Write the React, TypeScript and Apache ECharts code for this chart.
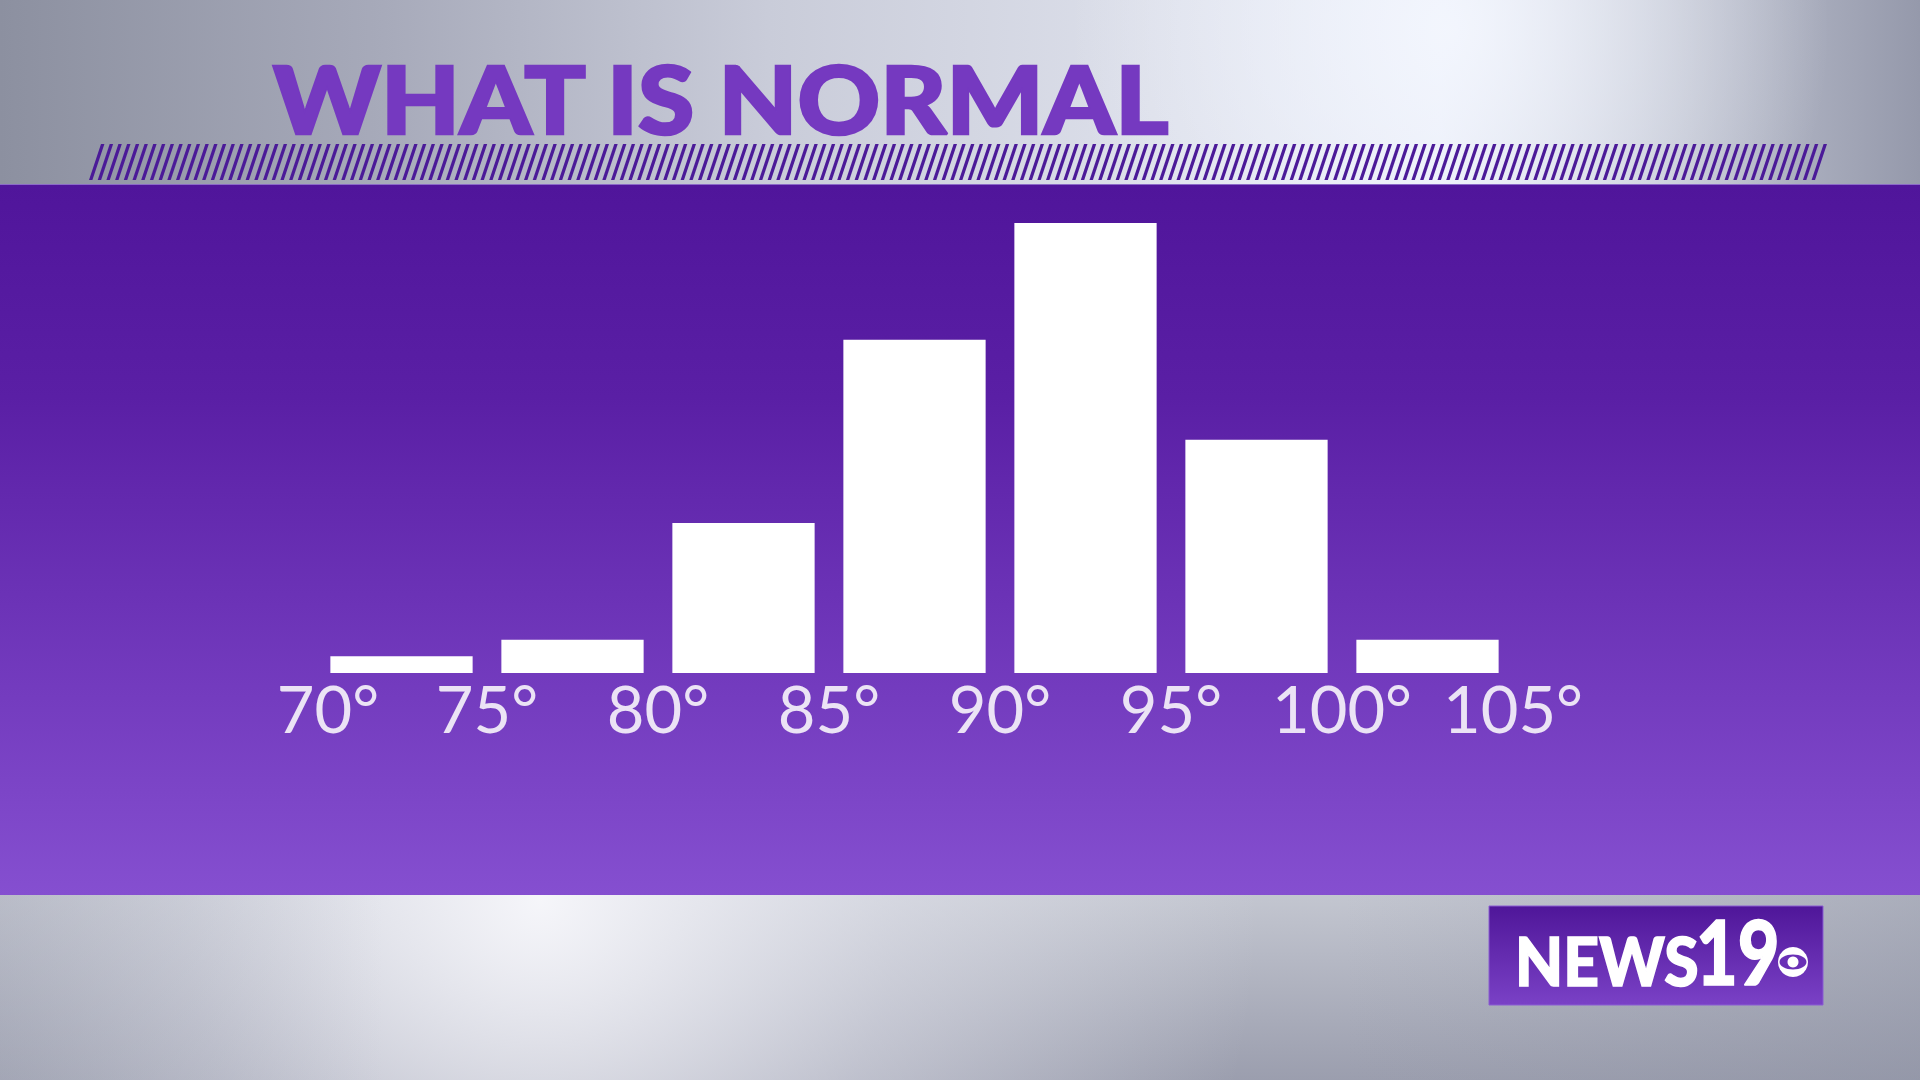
import React, { useEffect, useRef } from "react";
import * as echarts from "echarts";

// ---- data ----
const binStarts = [70, 75, 80, 85, 90, 95, 100];
const binWidth = 5;
const counts = [1, 2, 9, 20, 27, 14, 2];
const tickLabels = ["70°", "75°", "80°", "85°", "90°", "95°", "100°", "105°"];
const titleText = "WHAT IS NORMAL";
const logoWord = "NEWS";
const logoNumber = "19";

const W = 1920;
const H = 1080;

function buildStripes() {
  const out: any[] = [];
  const x0 = 89;
  const x1 = 1829;
  const top = 144;
  const bottom = 180;
  const slant = 12;
  const thick = 3.4;
  const step = 8.7;
  for (let x = x0; x + slant + thick <= x1 + 0.5; x += step) {
    out.push({
      type: "polygon",
      z: 2,
      shape: {
        points: [
          [x, bottom],
          [x + thick, bottom],
          [x + slant + thick, top],
          [x + slant, top],
        ],
      },
      style: { fill: "#4b1a98" },
      silent: true,
    });
  }
  return out;
}

export default function App() {
  const ref = useRef<HTMLDivElement>(null);

  useEffect(() => {
    document.body.style.margin = "0";
    document.body.style.overflow = "hidden";
    if (!ref.current) return;
    const chart = echarts.init(ref.current, undefined, { renderer: "svg" });

    const data = binStarts.map((s, i) => [s, s + binWidth, counts[i]]);
    const gap = 0.42;

    const option: any = {
      animation: false,
      backgroundColor: "transparent",
      grid: { left: 316, right: W - 1513, top: 173, bottom: H - 673 },
      xAxis: {
        type: "value",
        min: 70,
        max: 105,
        interval: 5,
        axisLine: { show: false },
        axisTick: { show: false },
        splitLine: { show: false },
        axisLabel: {
          margin: 2,
          color: "#ebe3f5",
          fontFamily: "Lato",
          fontSize: 65,
          fontWeight: 400,
          formatter: (v: number) => {
            const idx = Math.round((v - 70) / 5);
            const t = tickLabels[idx] ?? "";
            return idx === 0 ? "{first|" + t + "}" : t;
          },
          rich: {
            first: {
              color: "#ebe3f5",
              fontFamily: "Lato",
              fontSize: 65,
              fontWeight: 400,
              padding: [0, 0, 0, 24],
            },
          },
        },
      },
      yAxis: {
        type: "value",
        min: 0,
        max: 30,
        show: false,
        splitLine: { show: false },
      },
      series: [
        {
          type: "custom",
          z: 10,
          encode: { x: [0, 1], y: 2 },
          data,
          renderItem: (params: any, api: any) => {
            const s = api.value(0);
            const e = api.value(1);
            const v = api.value(2);
            const p0 = api.coord([s + gap, v]);
            const p1 = api.coord([e - gap, 0]);
            return {
              type: "rect",
              shape: { x: p0[0], y: p0[1], width: p1[0] - p0[0], height: p1[1] - p0[1] },
              style: { fill: "#ffffff" },
            };
          },
        },
      ],
      graphic: [
        // top grey band
        {
          type: "rect",
          z: 0,
          silent: true,
          shape: { x: 0, y: 0, width: W, height: 184 },
          style: {
            fill: {
              type: "linear",
              x: 0, y: 0, x2: 1, y2: 0,
              colorStops: [
                { offset: 0, color: "#8c90a0" },
                { offset: 0.2, color: "#a7aaba" },
                { offset: 0.4, color: "#c9ccd9" },
                { offset: 0.6, color: "#dcdfea" },
                { offset: 0.75, color: "#e6eaf6" },
                { offset: 0.88, color: "#bdc1cf" },
                { offset: 1, color: "#9599ab" },
              ],
            },
          },
        },
        {
          type: "rect",
          z: 1,
          silent: true,
          shape: { x: 0, y: 0, width: W, height: 184 },
          style: {
            fill: {
              type: "radial",
              x: 1450, y: 30, r: 380, global: true,
              colorStops: [
                { offset: 0, color: "rgba(245,248,255,0.85)" },
                { offset: 1, color: "rgba(245,248,255,0)" },
              ],
            },
          },
        },
        // purple band
        {
          type: "rect",
          z: 0,
          silent: true,
          shape: { x: 0, y: 184, width: W, height: 711 },
          style: {
            fill: {
              type: "linear",
              x: 0, y: 0, x2: 0, y2: 1,
              colorStops: [
                { offset: 0, color: "#50159b" },
                { offset: 0.3, color: "#5a1fa5" },
                { offset: 1, color: "#854fd0" },
              ],
            },
          },
        },
        {
          type: "line",
          z: 1,
          silent: true,
          shape: { x1: 0, y1: 184.5, x2: W, y2: 184.5 },
          style: { stroke: "#8c6ac8", lineWidth: 1.2 },
        },
        // bottom grey band
        {
          type: "rect",
          z: 0,
          silent: true,
          shape: { x: 0, y: 895, width: W, height: H - 895 },
          style: {
            fill: {
              type: "linear",
              x: 0, y: 0, x2: 0, y2: 1,
              colorStops: [
                { offset: 0, color: "#c3c6d0" },
                { offset: 1, color: "#9b9eae" },
              ],
            },
          },
        },
        {
          type: "rect",
          z: 1,
          silent: true,
          shape: { x: 0, y: 895, width: W, height: H - 895 },
          style: {
            fill: {
              type: "radial",
              x: 540, y: 900, r: 720, global: true,
              colorStops: [
                { offset: 0, color: "rgba(248,248,252,0.95)" },
                { offset: 0.5, color: "rgba(235,236,244,0.45)" },
                { offset: 1, color: "rgba(235,236,244,0)" },
              ],
            },
          },
        },
        {
          type: "rect",
          z: 1,
          silent: true,
          shape: { x: 0, y: 895, width: W, height: H - 895 },
          style: {
            fill: {
              type: "linear",
              x: 0, y: 0, x2: 1, y2: 0,
              colorStops: [
                { offset: 0, color: "rgba(150,154,170,0.35)" },
                { offset: 0.2, color: "rgba(150,154,170,0)" },
                { offset: 0.7, color: "rgba(150,154,170,0)" },
                { offset: 1, color: "rgba(140,144,162,0.45)" },
              ],
            },
          },
        },
        // stripes
        ...buildStripes(),
        // title
        {
          type: "text",
          z: 3,
          silent: true,
          x: 273,
          y: 98,
          scaleX: 1.086,
          style: {
            x: 0,
            y: 0,
            text: titleText,
            fill: "#7539c0",
            stroke: "#7539c0",
            lineWidth: 2.6,
            fontFamily: "Lato",
            fontWeight: 900,
            fontSize: 94,
            verticalAlign: "middle",
            align: "left",
          },
        },
        // logo box
        {
          type: "rect",
          z: 3,
          silent: true,
          shape: { x: 1489, y: 906, width: 334, height: 99 },
          style: {
            fill: {
              type: "linear",
              x: 0, y: 0, x2: 0, y2: 1,
              colorStops: [
                { offset: 0, color: "#4f1699" },
                { offset: 1, color: "#7a41c6" },
              ],
            },
            stroke: "#8a5cd2",
            lineWidth: 1,
          },
        },
        {
          type: "text",
          z: 4,
          silent: true,
          x: 1515,
          y: 960,
          scaleX: 0.93,
          style: {
            x: 0,
            y: 0,
            text: logoWord,
            fill: "#ffffff",
            stroke: "#ffffff",
            lineWidth: 1.5,
            fontFamily: "Lato",
            fontWeight: 900,
            fontSize: 67,
            verticalAlign: "middle",
            align: "left",
          },
        },
        {
          type: "text",
          z: 4,
          silent: true,
          x: 1696,
          y: 950,
          scaleX: 0.8,
          style: {
            x: 0,
            y: 0,
            text: logoNumber,
            fill: "#ffffff",
            stroke: "#ffffff",
            lineWidth: 1.5,
            fontFamily: "Lato",
            fontWeight: 900,
            fontSize: 90,
            verticalAlign: "middle",
            align: "left",
          },
        },
        {
          type: "circle",
          z: 4,
          silent: true,
          shape: { cx: 1793, cy: 962, r: 15 },
          style: { fill: "#ffffff" },
        },
        {
          type: "ellipse",
          z: 5,
          silent: true,
          shape: { cx: 1793, cy: 962, rx: 13.5, ry: 7.5 },
          style: { fill: "#6a31b6" },
        },
        {
          type: "circle",
          z: 6,
          silent: true,
          shape: { cx: 1793, cy: 962, r: 5.5 },
          style: { fill: "#ffffff" },
        },
      ],
    };

    chart.setOption(option);
    return () => {
      chart.dispose();
    };
  }, []);

  return (
    <div
      ref={ref}
      style={{ position: "absolute", left: 0, top: 0, width: W, height: H }}
    />
  );
}
